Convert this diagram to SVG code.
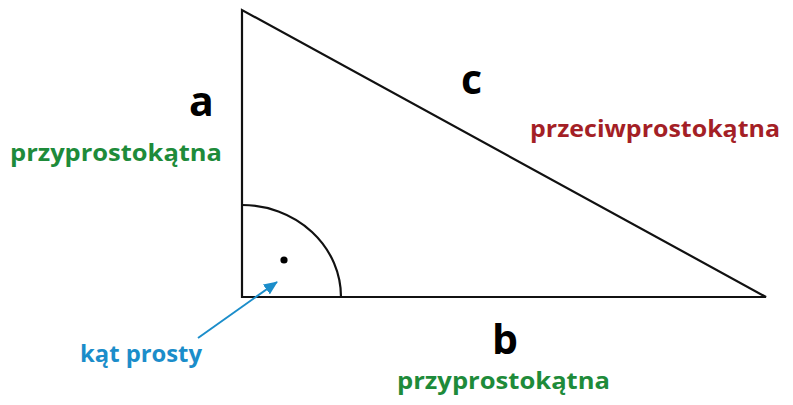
<svg xmlns="http://www.w3.org/2000/svg" width="793" height="405" viewBox="0 0 793 405">
<style>
.edge{fill:none;stroke:#111;stroke-width:2.2}
.lbl{font-family:"Open Sans","Liberation Sans",sans-serif;font-weight:700}
.big{font-size:41px;fill:#000}
.green{font-size:22.5px;fill:#1e8b3a}
.red{font-size:23px;fill:#a41f26}
.blue{font-size:22.5px;fill:#1b8dca}
</style>
<defs>
<marker id="arr" viewBox="0 0 14 12" refX="13" refY="6" markerWidth="7" markerHeight="6" orient="auto">
<path d="M0,0 L14,6 L0,12 Z" fill="#1b8dca"/>
</marker>
</defs>
<rect width="793" height="405" fill="#fff"/>
<g id="triangle">
<path class="edge" d="M242,10 L242,297 L766,297 Z"/>
<path class="edge" d="M242,205 A99,92 0 0 1 341,297"/>
<circle cx="284" cy="260" r="3.6" fill="#000"/>
</g>
<g id="connectors">
<line x1="198" y1="338" x2="277" y2="282" stroke="#1b8dca" stroke-width="2" marker-end="url(#arr)"/>
</g>
<g id="label-a"><text class="lbl big" x="189" y="116">a</text></g>
<g id="label-a-name"><text class="lbl green" x="10" y="161" textLength="212" lengthAdjust="spacingAndGlyphs">przyprostokątna</text></g>
<g id="label-c"><text class="lbl big" x="461" y="94">c</text></g>
<g id="label-c-name"><text class="lbl red" x="530" y="137" textLength="250" lengthAdjust="spacingAndGlyphs">przeciwprostokątna</text></g>
<g id="label-b"><text class="lbl big" x="492" y="354">b</text></g>
<g id="label-b-name"><text class="lbl green" x="397" y="389" textLength="213" lengthAdjust="spacingAndGlyphs">przyprostokątna</text></g>
<g id="label-angle"><text class="lbl blue" x="80" y="362" textLength="122" lengthAdjust="spacingAndGlyphs">kąt prosty</text></g>
</svg>
